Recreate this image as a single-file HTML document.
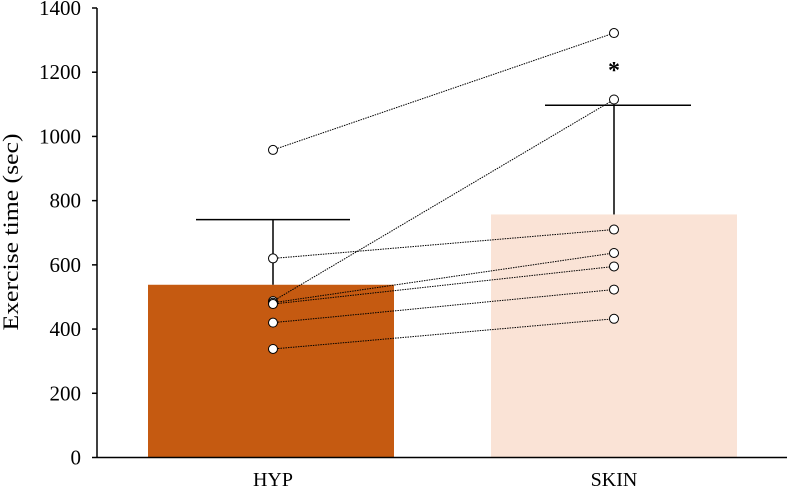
<!DOCTYPE html>
<html><head><meta charset="utf-8"><style>
html,body{margin:0;padding:0;background:#fff;}
svg text{font-family:"Liberation Serif",serif;fill:#000;}
</style></head><body>
<svg id="chart" width="787" height="491"></svg>
<script>
const categories = ["HYP", "SKIN"];
const means = [538, 757];
const errorTops = [741, 1097];
const hypPoints = [958, 620, 487, 482, 478, 420, 338];
const skinPoints = [1322, 710, 1115, 637, 595, 523, 432];
const yTicks = [0, 200, 400, 600, 800, 1000, 1200, 1400];

const svg = document.getElementById('chart');
const NS = 'http://www.w3.org/2000/svg';
const y0 = 457.5, yTop = 8, yMax = 1400;
function yScale(v){ return y0 - (v / yMax) * (y0 - yTop); }
const barCenters = [271, 614];
const barWidth = 246, capHalf = 77, pointX = [273, 614];
function xScale(i){ return barCenters[i]; }
function mk(tag, attrs, name){
  const e = document.createElementNS(NS, tag);
  for (const k in attrs) e.setAttribute(k, attrs[k]);
  
  
  svg.appendChild(e);
  return e;
}
const barColors = ["#c55a11", "#fae3d6"];
categories.forEach((c, i) => {
  mk('rect', {x: xScale(i) - barWidth/2, y: yScale(means[i]), width: barWidth, height: y0 - yScale(means[i]), fill: barColors[i]}, 'bar-' + c.toLowerCase());
});
categories.forEach((c, i) => {
  mk('line', {x1: pointX[i], x2: pointX[i], y1: yScale(means[i]), y2: yScale(errorTops[i]), stroke: '#000', 'stroke-width': 1.5}, 'error-bar-' + c.toLowerCase());
  mk('line', {x1: pointX[i] - capHalf + (i ? 8 : 0), x2: pointX[i] + capHalf, y1: yScale(errorTops[i]), y2: yScale(errorTops[i]), stroke: '#000', 'stroke-width': 1.5}, 'error-cap-' + c.toLowerCase());
});
hypPoints.forEach((v, k) => {
  mk('line', {x1: pointX[0], y1: yScale(v), x2: pointX[1], y2: yScale(skinPoints[k]), stroke: '#000', 'stroke-width': 1, 'stroke-dasharray': '1.5,1'}, 'subject-line');
});
hypPoints.forEach(v => mk('circle', {cx: pointX[0], cy: yScale(v), r: 4.5, fill: '#fff', stroke: '#000', 'stroke-width': 1}, 'hyp-point'));
skinPoints.forEach(v => mk('circle', {cx: pointX[1], cy: yScale(v), r: 4.5, fill: '#fff', stroke: '#000', 'stroke-width': 1}, 'skin-point'));
mk('line', {x1: 97, x2: 97, y1: yTop, y2: y0, stroke: '#000', 'stroke-width': 1.5}, 'y-axis');
mk('line', {x1: 97, x2: 787, y1: y0, y2: y0, stroke: '#000', 'stroke-width': 1.5}, 'x-axis');
yTicks.forEach(t => {
  mk('line', {x1: 92, x2: 97, y1: yScale(t), y2: yScale(t), stroke: '#000', 'stroke-width': 1.5}, 'y-tick');
  const tx = mk('text', {x: 81, y: yScale(t) + 7, 'text-anchor': 'end', 'font-size': 21}, 'y-tick-label');
  tx.textContent = t;
});
categories.forEach((c, i) => {
  const tx = mk('text', {x: xScale(i) + (i ? 0 : 2), y: 486, 'text-anchor': 'middle', 'font-size': 20}, 'x-label-' + c.toLowerCase());
  tx.textContent = c;
});
const yt = mk('text', {x: 0, y: 0, 'text-anchor': 'middle', 'font-size': 22, textLength: 197, lengthAdjust: 'spacingAndGlyphs', transform: 'translate(18,232) rotate(-90)'}, 'y-axis-title');
yt.textContent = 'Exercise time (sec)';
const st = mk('text', {x: 614, y: 78, 'text-anchor': 'middle', 'font-size': 24, 'font-weight': 'bold'}, 'significance-marker');
st.textContent = '*';
</script>
</body></html>
